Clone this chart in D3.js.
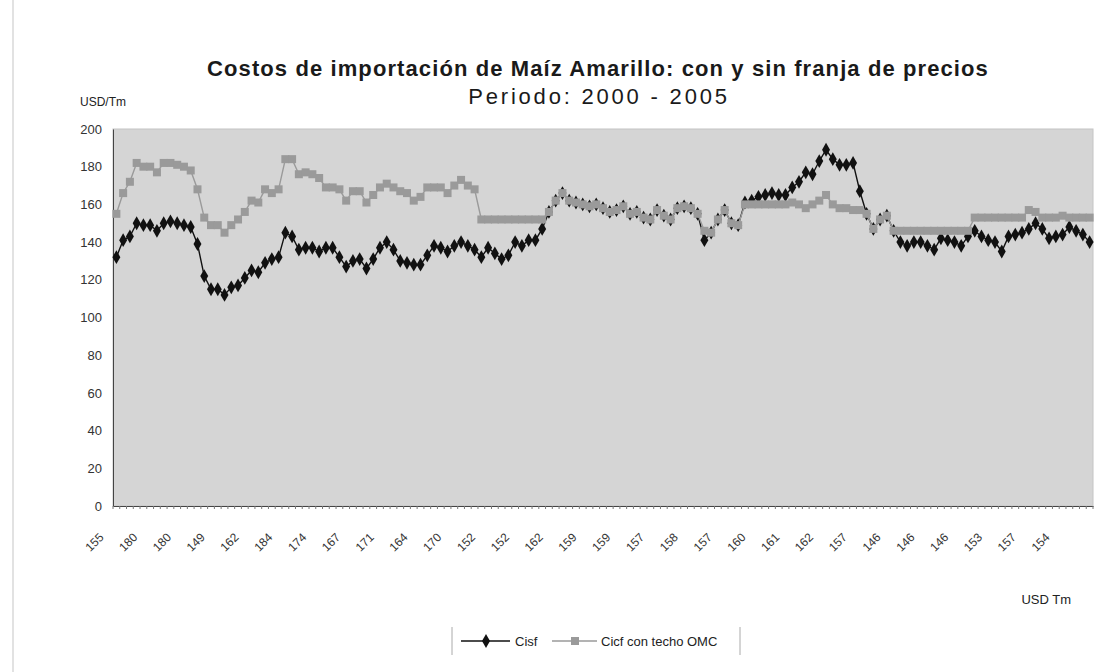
<!DOCTYPE html>
<html>
<head>
<meta charset="utf-8">
<script src="https://cdn.jsdelivr.net/npm/d3@7"></script>
<style>
  body { margin: 0; background: #fff; }
  text { font-family: "Liberation Sans", Arial, sans-serif; }
</style>
</head>
<body>
<svg id="chart" width="1100" height="672"></svg>
<script>
// Cisf (black diamonds), one value per period
const cisf = [
  132, 141, 143, 150, 149, 149, 146, 150, 151, 150,
  149, 148, 139, 122, 115, 115, 112, 116, 117, 121,
  125, 124, 129, 131, 132, 145, 143, 136, 137, 137,
  135, 137, 137, 132, 127, 130, 131, 126, 131, 137,
  140, 136, 130, 129, 128, 128, 133, 138, 137, 135,
  138, 140, 138, 136, 132, 137, 134, 131, 133, 140,
  138, 141, 141, 147, 156, 162, 166, 162, 161, 160,
  159, 160, 158, 156, 157, 159, 155, 156, 153, 152,
  157, 154, 152, 158, 159, 158, 155, 141, 145, 152,
  157, 150, 149, 161, 162, 164, 165, 166, 165, 165,
  169, 172, 177, 176, 183, 189, 184, 181, 181, 182,
  167, 155, 147, 152, 154, 146, 140, 138, 140, 140,
  138, 136, 142, 141, 140, 138, 143, 146, 143, 141,
  140, 135, 143, 144, 145, 147, 150, 147, 142, 143,
  144, 148, 146, 144, 140
];

// Cicf con techo OMC (grey squares)
const cicfTecho = [
  155, 166, 172, 182, 180, 180, 177, 182, 182, 181,
  180, 178, 168, 153, 149, 149, 145, 149, 152, 156,
  162, 161, 168, 166, 168, 184, 184, 176, 177, 176,
  174, 169, 169, 168, 162, 167, 167, 161, 165, 169,
  171, 169, 167, 166, 162, 164, 169, 169, 169, 166,
  170, 173, 170, 168, 152, 152, 152, 152, 152, 152,
  152, 152, 152, 152, 156, 162, 166, 162, 161, 160,
  159, 160, 158, 156, 157, 159, 155, 156, 153, 152,
  157, 154, 152, 158, 159, 158, 155, 146, 145, 152,
  157, 150, 149, 160, 160, 160, 160, 160, 160, 160,
  161, 160, 158, 160, 162, 165, 160, 158, 158, 157,
  157, 155, 147, 152, 154, 146, 146, 146, 146, 146,
  146, 146, 146, 146, 146, 146, 146, 153, 153, 153,
  153, 153, 153, 153, 153, 157, 156, 153, 153, 153,
  154, 153, 153, 153, 153
];

// category labels shown on every 5th period
const xTickLabels = [
  "155", "180", "180", "149", "162", "184", "174", "167", "171", "164",
  "170", "152", "152", "162", "159", "159", "157", "158", "157", "160",
  "161", "162", "157", "146", "146", "146", "153", "157", "154"
];
const labelStep = 5;
const yTicks = [0, 20, 40, 60, 80, 100, 120, 140, 160, 180, 200];

const svg = d3.select("#chart");
const plot = { left: 113, right: 1093, top: 129, bottom: 506 };

const x = d3.scaleBand()
  .domain(d3.range(cisf.length))
  .range([plot.left, plot.right]);
const cx = (i) => x(i) + x.bandwidth() / 2;

const y = d3.scaleLinear().domain([0, 200]).range([plot.bottom, plot.top]);

// scan edge line on the left
svg.append("line")
  .attr("x1", 13).attr("x2", 13).attr("y1", 0).attr("y2", 672)
  .attr("stroke", "#d8d8d8").attr("stroke-width", 1.5);

// plot area
svg.append("rect")
  .attr("x", plot.left).attr("y", plot.top)
  .attr("width", plot.right - plot.left).attr("height", plot.bottom - plot.top)
  .attr("fill", "#d5d5d5")
  .attr("stroke", "#c4c4c4");

// titles
svg.append("text")
  .attr("x", 598).attr("y", 76)
  .attr("text-anchor", "middle")
  .attr("font-size", 22).attr("font-weight", "bold").attr("letter-spacing", 1.1)
  .attr("fill", "#1a1a1a")
  .text("Costos de importación de Maíz Amarillo: con y sin franja de precios");
svg.append("text")
  .attr("x", 599).attr("y", 104)
  .attr("text-anchor", "middle")
  .attr("font-size", 22).attr("letter-spacing", 2.8).attr("fill", "#1a1a1a")
  .text("Periodo: 2000 - 2005");

svg.append("text")
  .attr("x", 80).attr("y", 106)
  .attr("font-size", 12).attr("fill", "#222")
  .text("USD/Tm");

svg.append("text")
  .attr("x", 1071).attr("y", 604)
  .attr("text-anchor", "end")
  .attr("font-size", 13).attr("fill", "#222")
  .text("USD Tm");

// y axis
const yAxis = d3.axisLeft(y).tickValues(yTicks).tickSize(0).tickPadding(11);
const gy = svg.append("g")
  .attr("transform", `translate(${plot.left},0)`)
  .call(yAxis);
gy.select(".domain").attr("stroke", "#444");
gy.selectAll("text")
  .attr("font-size", 13).attr("fill", "#333")
  .attr("font-family", "'Liberation Sans', Arial, sans-serif");

// x axis: ticks between every period, labels every 5th period
const xAxis = d3.axisBottom(x).tickSize(0).tickFormat("");
const gx = svg.append("g")
  .attr("transform", `translate(0,${plot.bottom})`)
  .call(xAxis);
gx.select(".domain").attr("stroke", "#444");

svg.append("g")
  .selectAll("line")
  .data(d3.range(cisf.length + 1))
  .join("line")
  .attr("x1", (i) => plot.left + i * x.step())
  .attr("x2", (i) => plot.left + i * x.step())
  .attr("y1", plot.bottom)
  .attr("y2", plot.bottom + 3)
  .attr("stroke", "#777");

svg.append("g")
  .selectAll("text")
  .data(xTickLabels)
  .join("text")
  .attr("transform", (d, k) => `translate(${cx(k * labelStep) - 15},${plot.bottom + 29}) rotate(-45)`)
  .attr("text-anchor", "end")
  .attr("dy", "0.35em")
  .attr("font-size", 12).attr("fill", "#333")
  .text((d) => d);

// series
const line = (vals) => d3.line().x((d, i) => cx(i)).y((d) => y(d))(vals);
const diamond = d3.symbol().type(d3.symbolDiamond).size(55);

const gBlack = svg.append("g");
gBlack.append("path")
  .attr("d", line(cisf))
  .attr("fill", "none").attr("stroke", "#111").attr("stroke-width", 1.4);
gBlack.selectAll("path.m")
  .data(cisf)
  .join("path")
  .attr("class", "m")
  .attr("d", diamond)
  .attr("transform", (d, i) => `translate(${cx(i)},${y(d)})`)
  .attr("fill", "#111");

const gGrey = svg.append("g");
gGrey.append("path")
  .attr("d", line(cicfTecho))
  .attr("fill", "none").attr("stroke", "#9a9a9a").attr("stroke-width", 1.4);
gGrey.selectAll("rect")
  .data(cicfTecho)
  .join("rect")
  .attr("x", (d, i) => cx(i) - 4)
  .attr("y", (d) => y(d) - 4)
  .attr("width", 8).attr("height", 8)
  .attr("fill", "#9a9a9a");

// legend
const lg = svg.append("g");
lg.append("line").attr("x1", 452).attr("x2", 452).attr("y1", 627).attr("y2", 655).attr("stroke", "#aaa");
lg.append("line").attr("x1", 740).attr("x2", 740).attr("y1", 627).attr("y2", 655).attr("stroke", "#aaa");

lg.append("line").attr("x1", 461).attr("x2", 510).attr("y1", 641).attr("y2", 641)
  .attr("stroke", "#111").attr("stroke-width", 1.4);
lg.append("path").attr("d", diamond).attr("transform", "translate(486,641)").attr("fill", "#111");
lg.append("text").attr("x", 515).attr("y", 646).attr("font-size", 13).attr("fill", "#222").text("Cisf");

lg.append("line").attr("x1", 552).attr("x2", 597).attr("y1", 641).attr("y2", 641)
  .attr("stroke", "#9a9a9a").attr("stroke-width", 1.4);
lg.append("rect").attr("x", 571).attr("y", 637).attr("width", 8).attr("height", 8).attr("fill", "#9a9a9a");
lg.append("text").attr("x", 601).attr("y", 646).attr("font-size", 13).attr("fill", "#222").text("Cicf con techo OMC");
</script>
</body>
</html>
